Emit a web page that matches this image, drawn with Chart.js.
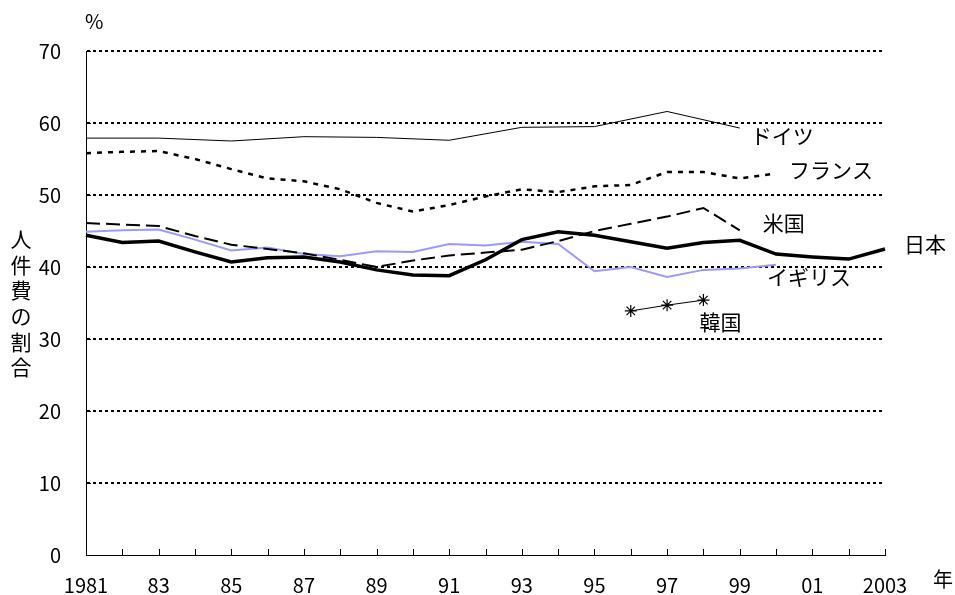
<!DOCTYPE html>
<html>
<head>
<meta charset="utf-8">
<script src="https://cdn.jsdelivr.net/npm/chart.js@4/dist/chart.umd.min.js"></script>
<style>
  html, body { margin: 0; padding: 0; background: #fff; }
  #wrap { width: 955px; height: 595px; position: relative; }
</style>
</head>
<body>
<div id="wrap"><canvas id="chart" width="955" height="595"></canvas></div>
<script>
// Categories and tick labels
const years = ['1981','1982','1983','1984','1985','1986','1987','1988','1989','1990','1991','1992',
  '1993','1994','1995','1996','1997','1998','1999','2000','2001','2002','2003'];
const yearLabels = ['1981','','83','','85','','87','','89','','91','','93','','95','','97','','99','','01','','2003'];
const yTicks = [0, 10, 20, 30, 40, 50, 60, 70];

// Series values (% share of personnel costs)
const japan   = [44.4, 43.4, 43.6, 42.1, 40.7, 41.3, 41.4, 40.7, 39.6, 38.9, 38.8, 41.0,
  43.8, 44.9, 44.4, 43.5, 42.6, 43.4, 43.7, 41.8, 41.4, 41.1, 42.5];
const germany = [57.9, null, 57.9, null, 57.5, null, 58.1, null, 58.0, null, 57.6, null,
  59.4, null, 59.5, null, 61.6, null, 59.3, null, null, null, null];
const france  = [55.8, 56.0, 56.1, 55.0, 53.6, 52.3, 51.9, 50.8, 48.9, 47.7, 48.6, 49.8,
  50.8, 50.4, 51.2, 51.4, 53.2, 53.2, 52.3, 53.0, null, null, null];
const usa     = [46.1, 45.9, 45.7, 44.3, 43.1, 42.5, 41.9, 41.0, 40.0, 40.9, 41.6, 42.0,
  42.4, 43.6, 45.0, 46.0, 47.0, 48.2, 45.1, null, null, null, null];
const uk      = [44.9, 45.1, 45.2, 43.8, 42.3, 42.7, 41.8, 41.5, 42.2, 42.1, 43.2, 43.0,
  43.5, 43.2, 39.4, 40.0, 38.6, 39.6, 39.8, 40.3, null, null, null];
const korea   = [null, null, null, null, null, null, null, null, null, null, null, null,
  null, null, null, 33.9, 34.7, 35.4, null, null, null, null, null];

const seriesNames = ['日本', 'ドイツ', 'フランス', '米国', 'イギリス', '韓国'];

const FONT = '"Noto Sans CJK JP", "Noto Sans", sans-serif';

// labels next to the line ends: [dx, dy] from the last point of each series
const labelOffsets = {
  '日本': [19, -5],
  'ドイツ': [11, 8],
  'フランス': [13, -3],
  '米国': [23, -7],
  'イギリス': [-9, 12],
  '韓国': [-4, 22]
};

const decorations = {
  id: 'decorations',
  afterDraw(chart) {
    const ctx = chart.ctx;
    const x = chart.scales.x, y = chart.scales.y;
    const area = chart.chartArea;
    ctx.save();
    ctx.strokeStyle = '#000';
    ctx.lineWidth = 1;
    // inward ticks on x axis
    for (let i = 0; i < years.length; i++) {
      const px = Math.round(x.getPixelForValue(i)) + 0.5;
      ctx.beginPath();
      ctx.moveTo(px, area.bottom);
      ctx.lineTo(px, area.bottom - 6);
      ctx.stroke();
    }
    // inward ticks on y axis
    yTicks.forEach(v => {
      const py = Math.round(y.getPixelForValue(v)) + 0.5;
      ctx.beginPath();
      ctx.moveTo(area.left, py);
      ctx.lineTo(area.left + 5, py);
      ctx.stroke();
    });
    ctx.fillStyle = '#000';
    ctx.font = '20px ' + FONT;
    ctx.textBaseline = 'middle';
    ctx.textAlign = 'left';
    ctx.fillText('%', 85, 21);
    ctx.fillText('年', 933, 579);
    // vertical axis title
    ctx.font = '21px ' + FONT;
    ctx.textAlign = 'center';
    const title = '人件費の割合';
    for (let i = 0; i < title.length; i++) {
      ctx.fillText(title[i], 21, 239 + i * 25.7);
    }
    // series labels
    ctx.textAlign = 'left';
    chart.data.datasets.forEach((ds, di) => {
      let last = -1;
      ds.data.forEach((v, i) => { if (v !== null) last = i; });
      const meta = chart.getDatasetMeta(di);
      const pt = meta.data[last];
      const off = labelOffsets[ds.label];
      ctx.fillText(ds.label, pt.x + off[0], pt.y + off[1]);
    });
    ctx.restore();
  }
};

new Chart(document.getElementById('chart'), {
  type: 'line',
  data: {
    labels: years,
    datasets: [
      { label: seriesNames[0], data: japan, borderColor: '#000', borderWidth: 3.5, pointRadius: 0 },
      { label: seriesNames[1], data: germany, borderColor: '#000', borderWidth: 1, pointRadius: 0, spanGaps: true },
      { label: seriesNames[2], data: france, borderColor: '#000', borderWidth: 2.5, borderDash: [5, 6], pointRadius: 0 },
      { label: seriesNames[3], data: usa, borderColor: '#000', borderWidth: 2, borderDash: [14, 6], pointRadius: 0 },
      { label: seriesNames[4], data: uk, borderColor: '#9999ff', borderWidth: 2, pointRadius: 0 },
      { label: seriesNames[5], data: korea, borderColor: '#000', borderWidth: 1, pointStyle: 'star',
        pointRadius: 6, pointBorderColor: '#000', pointBorderWidth: 1.2, pointBackgroundColor: '#000' }
    ]
  },
  options: {
    responsive: false,
    animation: false,
    devicePixelRatio: 1,
    layout: { padding: { top: 51, right: 70, bottom: 0, left: 0 } },
    plugins: { legend: { display: false }, tooltip: { enabled: false } },
    elements: { line: { tension: 0 } },
    scales: {
      x: {
        type: 'category',
        offset: false,
        afterFit: s => { s.height = 40; },
        border: { display: true, color: '#000', width: 1 },
        grid: { display: false, drawTicks: false },
        ticks: {
          autoSkip: false,
          maxRotation: 0,
          padding: 18,
          color: '#000',
          font: { family: FONT, size: 20 },
          callback: (v, i) => yearLabels[i]
        }
      },
      y: {
        min: 0,
        max: 70,
        afterFit: s => { s.width = 86; },
        afterBuildTicks: s => { s.ticks = yTicks.map(v => ({ value: v })); },
        border: { display: true, color: '#000', width: 1, dash: [3, 3] },
        grid: {
          drawTicks: false,
          color: ctx => ctx.tick && ctx.tick.value === 0 ? 'rgba(0,0,0,0)' : '#000',
          lineWidth: 2
        },
        ticks: {
          autoSkip: false,
          padding: 25,
          color: '#000',
          font: { family: FONT, size: 20 }
        }
      }
    }
  },
  plugins: [decorations]
});
</script>
</body>
</html>
